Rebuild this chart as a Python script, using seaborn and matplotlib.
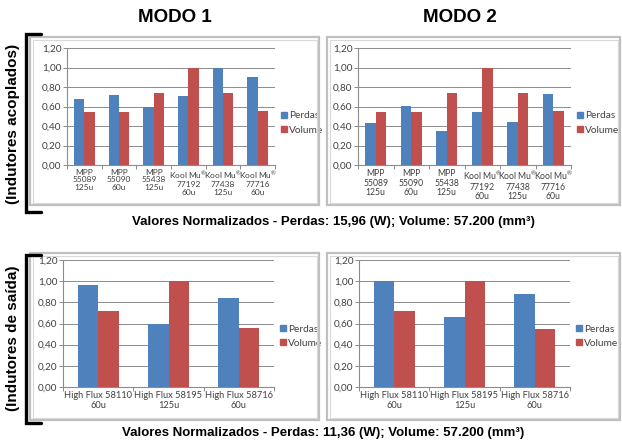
import matplotlib
matplotlib.use("Agg")
import matplotlib.pyplot as plt
import seaborn as sns
import pandas as pd
from matplotlib.patches import Rectangle
from matplotlib.lines import Line2D

# ---------------- data ----------------
top_categories = ["MPP\n55089\n125u", "MPP\n55090\n60u", "MPP\n55438\n125u",
                  "Kool Mu$^{\\circledR}$\n77192\n60u", "Kool Mu$^{\\circledR}$\n77438\n125u",
                  "Kool Mu$^{\\circledR}$\n77716\n60u"]
top_m1_perdas = [0.68, 0.72, 0.59, 0.71, 1.00, 0.90]
top_m1_volume = [0.54, 0.54, 0.74, 1.00, 0.74, 0.55]
top_m2_perdas = [0.43, 0.61, 0.35, 0.54, 0.44, 0.73]
top_m2_volume = [0.54, 0.54, 0.74, 1.00, 0.74, 0.55]

bot_categories = ["High Flux 58110\n60u", "High Flux 58195\n125u", "High Flux 58716\n60u"]
bot_m1_perdas = [0.96, 0.60, 0.84]
bot_m1_volume = [0.72, 1.00, 0.56]
bot_m2_perdas = [1.00, 0.66, 0.88]
bot_m2_volume = [0.72, 1.00, 0.55]

series_names = ["Perdas", "Volume"]
y_ticks = [0.0, 0.2, 0.4, 0.6, 0.8, 1.0, 1.2]
y_tick_labels = ["0,00", "0,20", "0,40", "0,60", "0,80", "1,00", "1,20"]

titles = ["MODO 1", "MODO 2"]
row_labels = ["(Indutores acoplados)", "(Indutores de saída)"]
captions = ["Valores Normalizados - Perdas: 15,96 (W); Volume: 57.200 (mm³)",
            "Valores Normalizados - Perdas: 11,36 (W); Volume: 57.200 (mm³)"]

colors = ["#4F81BD", "#C0504D"]

sns.set_style("white")
plt.rcParams["font.family"] = ["Lato", "DejaVu Sans"]
plt.rcParams["mathtext.default"] = "regular"

W, H = 622, 443
fig = plt.figure(figsize=(W / 100, H / 100), dpi=100)


def fx(px):
    return px / W


def fy(py):
    return 1 - py / H


def make_df(cats, perdas, volume):
    return pd.DataFrame({
        "cat": list(cats) * 2,
        "serie": [series_names[0]] * len(cats) + [series_names[1]] * len(cats),
        "valor": list(perdas) + list(volume),
    })


def draw_panel(rect_px, panel_px, cats, perdas, volume, width, leg_y, xfs):
    x0, y0, x1, y1 = panel_px
    frame = Rectangle((fx(x0), fy(y1)), fx(x1 - x0), fy(y0) - fy(y1),
                      transform=fig.transFigure, fill=False,
                      edgecolor="#BFBFBF", linewidth=1.6, zorder=0)
    fig.patches.append(frame)
    fig.patches.append(Rectangle((fx(x0 + 2.5), fy(y1 - 2.5)), fx(x1 - x0 - 5), fy(y0 + 2.5) - fy(y1 - 2.5),
                                 transform=fig.transFigure, fill=False,
                                 edgecolor="#D9D9D9", linewidth=0.8, zorder=0))
    l, t, r, b = rect_px
    ax = fig.add_axes([fx(l), fy(b), fx(r - l), fy(t) - fy(b)])
    df = make_df(cats, perdas, volume)
    sns.barplot(data=df, x="cat", y="valor", hue="serie", palette=colors,
                width=width, ax=ax, saturation=1, edgecolor="none", zorder=3)
    ax.set_ylim(0, 1.2)
    ax.set_xlim(-0.5, len(cats) - 0.5)
    ax.set_yticks(y_ticks)
    ax.set_yticklabels(y_tick_labels)
    ax.set_xlabel("")
    ax.set_ylabel("")
    ax.grid(axis="y", color="#8C8C8C", linewidth=0.7, zorder=0)
    ax.set_axisbelow(True)
    for s in ["top", "right"]:
        ax.spines[s].set_visible(False)
    for s in ["left", "bottom"]:
        ax.spines[s].set_color("#8C8C8C")
        ax.spines[s].set_linewidth(0.8)
    ax.tick_params(axis="y", length=3, width=0.7, color="#8C8C8C", labelsize=7.2,
                   labelcolor="#404040", pad=1, left=True)
    ax.set_xticks(range(len(cats)))
    ax.set_xticklabels(cats, fontsize=xfs, color="#404040", linespacing=1.05)
    ax.tick_params(axis="x", length=0, pad=3)
    ax.set_xticks([i - 0.5 for i in range(len(cats) + 1)], minor=True)
    ax.tick_params(axis="x", which="minor", length=3, width=0.7, color="#8C8C8C", bottom=True)
    ax.legend_.remove()
    handles = [Line2D([], [], marker="s", linestyle="none", markersize=4.2,
                      markerfacecolor=c, markeredgecolor=c) for c in colors]
    ax.legend(handles, series_names, loc="center left", bbox_to_anchor=(1.0, leg_y),
              frameon=False, fontsize=7.3, handlelength=0.55, handletextpad=0.2,
              labelspacing=0.5, borderaxespad=0.25, labelcolor="#404040")
    return ax


# top row
draw_panel((67, 48, 275, 165), (30, 37, 319, 205), top_categories,
           top_m1_perdas, top_m1_volume, 0.6, 0.36, 6.0)
draw_panel((358, 48, 571, 165), (327, 37, 620, 205), top_categories,
           top_m2_perdas, top_m2_volume, 0.6, 0.36, 6.2)
# bottom row
draw_panel((63, 260, 274, 387), (30, 253, 319, 420), bot_categories,
           bot_m1_perdas, bot_m1_volume, 0.58, 0.40, 6.7)
draw_panel((359, 260, 570, 387), (327, 253, 620, 420), bot_categories,
           bot_m2_perdas, bot_m2_volume, 0.58, 0.40, 6.7)

bold = dict(family=["Liberation Sans", "DejaVu Sans"], fontweight="bold", color="#000000")
fig.text(fx(175), fy(18), titles[0], ha="center", va="center", fontsize=13.5, **bold)
fig.text(fx(460), fy(18), titles[1], ha="center", va="center", fontsize=13.5, **bold)
fig.text(fx(333), fy(222), captions[0], ha="center", va="center", fontsize=9.5, **bold)
fig.text(fx(323), fy(433), captions[1], ha="center", va="center", fontsize=9.5, **bold)
fig.text(fx(13), fy(124), row_labels[0], ha="center", va="center", rotation=90, fontsize=11, **bold)
fig.text(fx(13), fy(338), row_labels[1], ha="center", va="center", rotation=90, fontsize=11, **bold)

# brackets
for (ya, yb) in [(34, 212), (255, 423)]:
    xs = [fx(41), fx(26), fx(26), fx(41)]
    ys = [fy(ya), fy(ya), fy(yb), fy(yb)]
    fig.add_artist(Line2D(xs, ys, transform=fig.transFigure, color="black",
                          linewidth=2.4, solid_joinstyle="miter"))

fig.savefig("out.png", dpi=100)
